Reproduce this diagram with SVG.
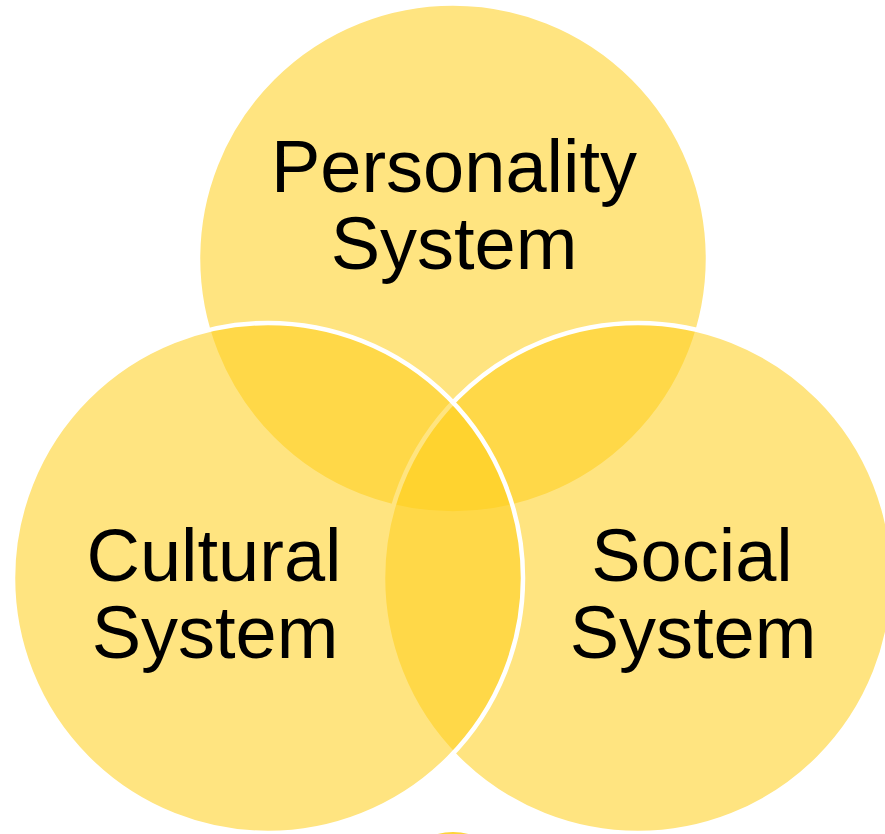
<svg xmlns="http://www.w3.org/2000/svg" width="885" height="834" viewBox="0 0 885 834">
  <style>
    .set { fill: #FFCE1C; fill-opacity: 0.56; stroke: #FFFFFF; stroke-width: 4.5; }
    .lbl { font-family: "Liberation Sans", Arial, sans-serif; font-size: 74px; fill: #000000; text-anchor: middle; }
  </style>
  <rect x="0" y="0" width="885" height="834" fill="#FFFFFF"/>
  <g id="personality-system">
    <circle class="set" cx="453" cy="258.5" r="255"/>
    <text class="lbl" x="454" y="192">Personality</text>
    <text class="lbl" x="454" y="269">System</text>
  </g>
  <g id="social-system">
    <circle class="set" cx="638" cy="578" r="255"/>
    <text class="lbl" x="692" y="581">Social</text>
    <text class="lbl" x="693" y="658">System</text>
  </g>
  <g id="cultural-system">
    <circle class="set" cx="268" cy="578" r="255"/>
    <text class="lbl" x="214" y="581">Cultural</text>
    <text class="lbl" x="215" y="658">System</text>
  </g>
  <g id="partial-shape">
    <circle cx="453" cy="892" r="60" fill="#FDD43A"/>
  </g>
</svg>
